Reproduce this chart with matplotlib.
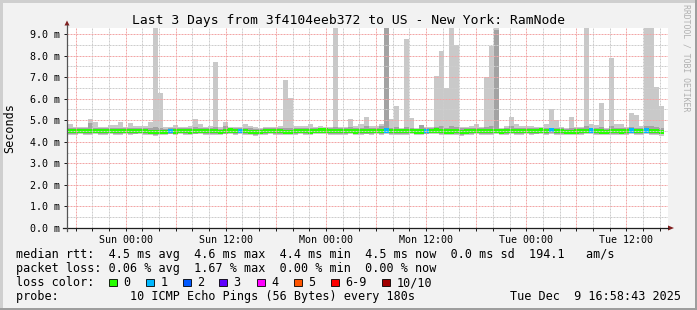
import numpy as np
import pandas as pd
import matplotlib
matplotlib.use("Agg")
import matplotlib.pyplot as plt
import matplotlib.dates as mdates
from matplotlib.lines import Line2D
from matplotlib.patches import Rectangle, Polygon

# ---------------- data ----------------
title = "Last 3 Days from 3f4104eeb372 to US - New York: RamNode"
y_label = "Seconds"
watermark = "RRDTOOL / TOBI OETIKER"
t_start = "2025-12-06 16:58:43"
t_end = "2025-12-09 16:58:43"
bin_first = "2025-12-06 17:06:00"
bin_minutes = 36
n_bins = 120
nan = np.nan

# round-trip times in ms, one value per consolidated bin
rtt_max = [4.82, 4.67, 4.70, 4.70, 5.04, 4.92, 4.67, 4.67, 4.78, 4.78,
           4.92, 4.67, 4.85, 4.73, 4.73, 4.73, 4.92, 10.5, 6.28, 4.67,
           4.67, 4.79, 4.67, 4.67, 4.73, 5.04, 4.82, 4.67, 4.73, 7.70,
           4.67, 4.92, 4.67, 4.67, 4.70, 4.82, 4.73, 4.67, 4.62, 4.70,
           4.70, 4.70, 4.73, 6.86, 6.03, 4.73, 4.73, 4.73, 4.82, 4.67,
           4.73, 4.67, 4.67, 10.5, 4.67, 4.70, 5.04, 4.73, 4.82, 5.15,
           4.73, 4.73, 4.82, 10.5, 5.05, 5.66, 4.62, 8.77, 5.10, 4.62,
           4.78, 4.70, 4.70, 7.05, 8.20, 6.49, 10.5, 8.49, 4.67, 4.67,
           4.73, 4.82, 4.67, 7.00, 8.44, 10.5, 4.62, 4.73, 5.15, 4.82,
           4.73, 4.73, 4.73, 4.67, 4.67, 4.82, 5.52, 5.00, 4.67, 4.62,
           5.15, 4.70, 4.70, 10.5, 4.82, 4.78, 5.80, 4.62, 7.88, 4.82,
           4.82, 4.70, 5.33, 5.24, 4.73, 10.5, 10.5, 6.54, 5.66, nan]

rtt_q3 = [4.62, 4.62, 4.64, 4.62, 4.85, 4.66, 4.62, 4.62, 4.64, 4.62,
          4.66, 4.62, 4.64, 4.62, 4.62, 4.64, 4.66, 4.70, 4.66, 4.60,
          4.62, 4.64, 4.62, 4.62, 4.62, 4.70, 4.64, 4.62, 4.62, 4.68,
          4.60, 4.75, 4.64, 4.62, 4.64, 4.66, 4.62, 4.60, 4.58, 4.62,
          4.62, 4.64, 4.62, 4.66, 4.64, 4.62, 4.62, 4.64, 4.66, 4.62,
          4.64, 4.64, 4.62, 4.70, 4.62, 4.62, 4.70, 4.62, 4.66, 4.72,
          4.62, 4.62, 4.75, 10.5, 4.64, 4.70, 4.60, 4.70, 4.66, 4.60,
          4.80, 4.62, 4.62, 4.70, 4.72, 4.66, 4.75, 4.70, 4.62, 4.62,
          4.62, 4.66, 4.62, 4.68, 4.72, 9.20, 4.60, 4.62, 4.72, 4.66,
          4.62, 4.62, 4.62, 4.62, 4.64, 4.66, 4.66, 4.64, 4.62, 4.60,
          4.66, 4.62, 4.62, 4.72, 4.66, 4.64, 4.70, 4.60, 4.72, 4.66,
          4.66, 4.62, 4.68, 4.66, 4.62, 4.75, 4.75, 4.68, 4.64, nan]

rtt_median = [4.50, 4.50, 4.50, 4.51, 4.50, 4.50, 4.50, 4.49, 4.50, 4.50,
              4.50, 4.51, 4.49, 4.50, 4.50, 4.50, 4.46, 4.45, 4.45, 4.47,
              4.50, 4.48, 4.50, 4.50, 4.48, 4.50, 4.50, 4.51, 4.49, 4.50,
              4.47, 4.50, 4.52, 4.50, 4.51, 4.50, 4.47, 4.45, 4.47, 4.50,
              4.50, 4.51, 4.50, 4.47, 4.46, 4.50, 4.50, 4.50, 4.48, 4.50,
              4.52, 4.52, 4.50, 4.49, 4.49, 4.50, 4.50, 4.48, 4.50, 4.50,
              4.50, 4.50, 4.50, 4.52, 4.50, 4.50, 4.49, 4.50, 4.50, 4.48,
              4.48, 4.50, 4.50, 4.52, 4.50, 4.48, 4.48, 4.50, 4.46, 4.48,
              4.50, 4.50, 4.50, 4.50, 4.50, 4.51, 4.48, 4.50, 4.50, 4.50,
              4.50, 4.50, 4.50, 4.50, 4.52, 4.50, 4.53, 4.50, 4.49, 4.47,
              4.47, 4.48, 4.50, 4.50, 4.52, 4.50, 4.48, 4.47, 4.50, 4.49,
              4.48, 4.50, 4.52, 4.50, 4.50, 4.52, 4.50, 4.49, 4.47, nan]

rtt_q1 = [4.36, 4.36, 4.40, 4.38, 4.36, 4.40, 4.36, 4.38, 4.40, 4.36,
          4.38, 4.40, 4.36, 4.38, 4.40, 4.38, 4.34, 4.33, 4.34, 4.35,
          4.38, 4.36, 4.40, 4.38, 4.36, 4.38, 4.40, 4.38, 4.36, 4.38,
          4.35, 4.38, 4.40, 4.38, 4.40, 4.38, 4.35, 4.33, 4.35, 4.38,
          4.40, 4.38, 4.36, 4.35, 4.34, 4.38, 4.40, 4.38, 4.36, 4.40,
          4.40, 4.40, 4.38, 4.36, 4.36, 4.38, 4.40, 4.36, 4.38, 4.38,
          4.38, 4.40, 4.38, 4.40, 4.38, 4.36, 4.36, 4.38, 4.40, 4.35,
          4.36, 4.38, 4.40, 4.40, 4.38, 4.36, 4.35, 4.38, 4.33, 4.36,
          4.38, 4.40, 4.38, 4.38, 4.36, 4.40, 4.36, 4.38, 4.40, 4.38,
          4.38, 4.40, 4.38, 4.38, 4.40, 4.38, 4.40, 4.38, 4.36, 4.35,
          4.35, 4.36, 4.38, 4.40, 4.40, 4.38, 4.36, 4.35, 4.38, 4.36,
          4.36, 4.38, 4.40, 4.38, 4.38, 4.40, 4.38, 4.36, 4.34, nan]

rtt_min = [4.33, 4.32, 4.35, 4.33, 4.32, 4.35, 4.31, 4.33, 4.35, 4.32,
           4.33, 4.35, 4.32, 4.34, 4.35, 4.33, 4.30, 4.29, 4.30, 4.31,
           4.34, 4.32, 4.35, 4.33, 4.31, 4.34, 4.35, 4.33, 4.32, 4.33,
           4.31, 4.34, 4.35, 4.33, 4.35, 4.33, 4.31, 4.29, 4.31, 4.33,
           4.35, 4.33, 4.32, 4.31, 4.30, 4.33, 4.35, 4.33, 4.32, 4.35,
           4.36, 4.36, 4.33, 4.32, 4.32, 4.33, 4.35, 4.31, 4.33, 4.34,
           4.33, 4.35, 4.33, 4.36, 4.33, 4.32, 4.32, 4.33, 4.35, 4.31,
           4.32, 4.34, 4.35, 4.36, 4.33, 4.31, 4.30, 4.33, 4.29, 4.32,
           4.33, 4.35, 4.33, 4.33, 4.31, 4.35, 4.31, 4.33, 4.35, 4.33,
           4.33, 4.35, 4.33, 4.34, 4.36, 4.33, 4.36, 4.33, 4.32, 4.31,
           4.30, 4.32, 4.33, 4.35, 4.36, 4.33, 4.31, 4.30, 4.33, 4.32,
           4.31, 4.33, 4.36, 4.33, 4.33, 4.36, 4.33, 4.32, 4.29, nan]

# lost pings (of 10) per bin
loss = [0, 0, 0, 0, 0, 0, 0, 0, 0, 0,
        0, 0, 0, 0, 0, 0, 0, 0, 0, 0,
        1, 0, 0, 0, 0, 0, 0, 0, 0, 0,
        0, 0, 0, 0, 1, 0, 0, 0, 0, 0,
        0, 0, 0, 0, 0, 0, 0, 0, 0, 0,
        0, 0, 0, 0, 0, 0, 0, 0, 0, 0,
        0, 0, 0, 1, 0, 0, 0, 0, 0, 0,
        0, 1, 0, 0, 0, 0, 0, 0, 0, 0,
        0, 0, 0, 0, 0, 0, 0, 0, 0, 0,
        0, 0, 0, 0, 0, 0, 1, 0, 0, 0,
        0, 0, 0, 0, 1, 0, 0, 0, 0, 0,
        0, 0, 1, 0, 0, 1, 0, 0, 0, 0]

loss_labels = ["0", "1", "2", "3", "4", "5", "6-9", "10/10"]
loss_colors = ["#26ff00", "#00b8ff", "#0059ff", "#5e00ff", "#ff00ff",
               "#ff5500", "#ff0000", "#a10000"]

y_ticks = [0, 1, 2, 3, 4, 5, 6, 7, 8, 9]
legend_rtt = "median rtt:  4.5 ms avg  4.6 ms max  4.4 ms min  4.5 ms now  0.0 ms sd  194.1   am/s"
legend_loss = "packet loss: 0.06 % avg  1.67 % max  0.00 % min  0.00 % now"
legend_color_head = "loss color:"
legend_probe = "probe:          10 ICMP Echo Pings (56 Bytes) every 180s"
stamp = "Tue Dec  9 16:58:43 2025"

# ---------------- styling ----------------
W, H = 697, 310
MONO = "DejaVu Sans Mono"
BG = "#f2f2f2"
LIGHT = "#c9c9c9"
DARK = "#a3a3a3"
GRID = "#cdcdcd"
MGRID = "#f2a6a6"
ARROW = "#801f1f"
AXIS = "#1f1f1f"
DASH = (0, (2, 1))


def fx(px):
    return px / W


def fy(py):
    return 1 - py / H


fig = plt.figure(figsize=(W / 100, H / 100), dpi=100)
fig.patch.set_facecolor(BG)

ax = fig.add_axes([fx(67), fy(228), fx(668) - fx(67), fy(28) - fy(228)])
ax.set_facecolor("white")
for s in ax.spines.values():
    s.set_visible(False)

t0 = pd.Timestamp(t_start)
t1 = pd.Timestamp(t_end)
starts = pd.date_range(bin_first, periods=n_bins, freq=f"{bin_minutes}min")
xs = mdates.date2num(starts.to_pydatetime())
bw = bin_minutes / 1440.0

mx = np.array(rtt_max)
q3 = np.array(rtt_q3)
md = np.array(rtt_median)
q1 = np.array(rtt_q1)
mn = np.array(rtt_min)
ls = np.array(loss)

ppm = 200.0 / 9.276  # pixels per ms
band = 4.2 / ppm      # median band thickness (about 4 px)

ax.bar(xs, mx - mn, bottom=mn, width=bw, align="edge", color=LIGHT,
       linewidth=0, antialiased=False, zorder=1)
ax.bar(xs, q3 - q1, bottom=q1, width=bw, align="edge", color=DARK,
       linewidth=0, antialiased=False, zorder=2)
med_cols = [loss_colors[min(int(l), 7)] for l in ls]
ax.bar(xs, np.full(n_bins, band), bottom=md - band / 2, width=bw, align="edge",
       color=med_cols, linewidth=0, antialiased=False, zorder=3)

ax.set_xlim(mdates.date2num(t0.to_pydatetime()), mdates.date2num(t1.to_pydatetime()))
ax.set_ylim(0, 9.276)

# grid (on top of the smoke, rrdtool style)
minor_t = pd.date_range("2025-12-06 18:00", t_end, freq="2h")
for t in minor_t:
    if t.hour % 6 != 0:
        ax.axvline(mdates.date2num(t.to_pydatetime()), color=GRID, lw=0.72,
                   ls=DASH, zorder=4)
for v in np.arange(0.5, 9.3, 1.0):
    ax.axhline(v, color=GRID, lw=0.72, ls=DASH, zorder=4)
major_t = pd.date_range("2025-12-06 18:00", t_end, freq="6h")
for t in major_t:
    ax.axvline(mdates.date2num(t.to_pydatetime()), color=MGRID, lw=0.72,
               ls=DASH, zorder=5)
for v in y_ticks[1:]:
    ax.axhline(v, color=MGRID, lw=0.72, ls=DASH, zorder=5)

# ticks and labels
ax.xaxis.set_major_locator(mdates.HourLocator(byhour=[0, 12]))
ax.xaxis.set_major_formatter(mdates.DateFormatter("%a %H:%M"))
ax.xaxis.set_minor_locator(mdates.HourLocator(interval=2))
ax.set_yticks(y_ticks)
ax.set_yticklabels([f"{v:.1f} m" for v in y_ticks])
ax.set_yticks(np.arange(0.5, 9.3, 1.0), minor=True)
ax.tick_params(axis="x", which="both", direction="out", length=2.2, width=0.72,
               color=AXIS, pad=2.5, labelsize=7.2, labelfontfamily=MONO)
ax.tick_params(axis="y", which="major", direction="out", length=2.2, width=0.72,
               color=AXIS, pad=3.0, labelsize=7.2, labelfontfamily=MONO)
ax.tick_params(axis="y", which="minor", length=0)

# axes lines and arrows (figure pixel coordinates)
fig.add_artist(Line2D([fx(63), fx(668)], [fy(228), fy(228)], color=AXIS, lw=0.9))
fig.add_artist(Line2D([fx(67), fx(67)], [fy(231), fy(25)], color="#555555", lw=0.9))
fig.add_artist(Polygon([[fx(64.5), fy(25.5)], [fx(69.5), fy(25.5)], [fx(67), fy(20.5)]],
                       closed=True, color=ARROW, lw=0))
fig.add_artist(Polygon([[fx(668), fy(225.5)], [fx(668), fy(230.5)], [fx(674), fy(228)]],
                       closed=True, color=ARROW, lw=0))

# frame shading
fig.add_artist(Rectangle((0, fy(2.5)), 1, 2.5 / H, color="#cfcfcf", lw=0))
fig.add_artist(Rectangle((0, 0), 2.5 / W, 1, color="#cfcfcf", lw=0))
fig.add_artist(Rectangle((0, 0), 1, 2.5 / H, color="#9e9e9e", lw=0))
fig.add_artist(Rectangle((fx(694.5), 0), 2.5 / W, 1, color="#9e9e9e", lw=0))

# texts
fig.text(fx(348.5), fy(24), title, ha="center", va="baseline",
         fontsize=9.4, family=MONO, color="black")
fig.text(fx(10), fy(128), y_label, ha="center", va="center", rotation=90,
         fontsize=8.5, family=MONO, color="black")
fig.text(fx(686), fy(4), watermark, ha="center", va="top", rotation=270,
         fontsize=5.9, family=MONO, color="#b0b0b0")

fig.text(fx(16), fy(258), legend_rtt, ha="left", va="baseline",
         fontsize=8.5, family=MONO)
fig.text(fx(16), fy(272), legend_loss, ha="left", va="baseline",
         fontsize=8.5, family=MONO)
fig.text(fx(16), fy(286), legend_color_head, ha="left", va="baseline",
         fontsize=8.5, family=MONO)
box_x = [109, 146, 183, 219, 257, 294, 331, 382]
for bx, lab, col in zip(box_x, loss_labels, loss_colors):
    fig.add_artist(Rectangle((fx(bx), fy(286)), 7.5 / W, 7.5 / H,
                             facecolor=col, edgecolor="black", lw=0.6))
    fig.text(fx(bx + 14.5), fy(286), lab, ha="left", va="baseline",
             fontsize=8.5, family=MONO)
fig.text(fx(16), fy(300), legend_probe, ha="left", va="baseline",
         fontsize=8.5, family=MONO)
fig.text(fx(681), fy(300), stamp, ha="right", va="baseline",
         fontsize=8.5, family=MONO)

fig.savefig("out.png", dpi=100, facecolor=BG)
